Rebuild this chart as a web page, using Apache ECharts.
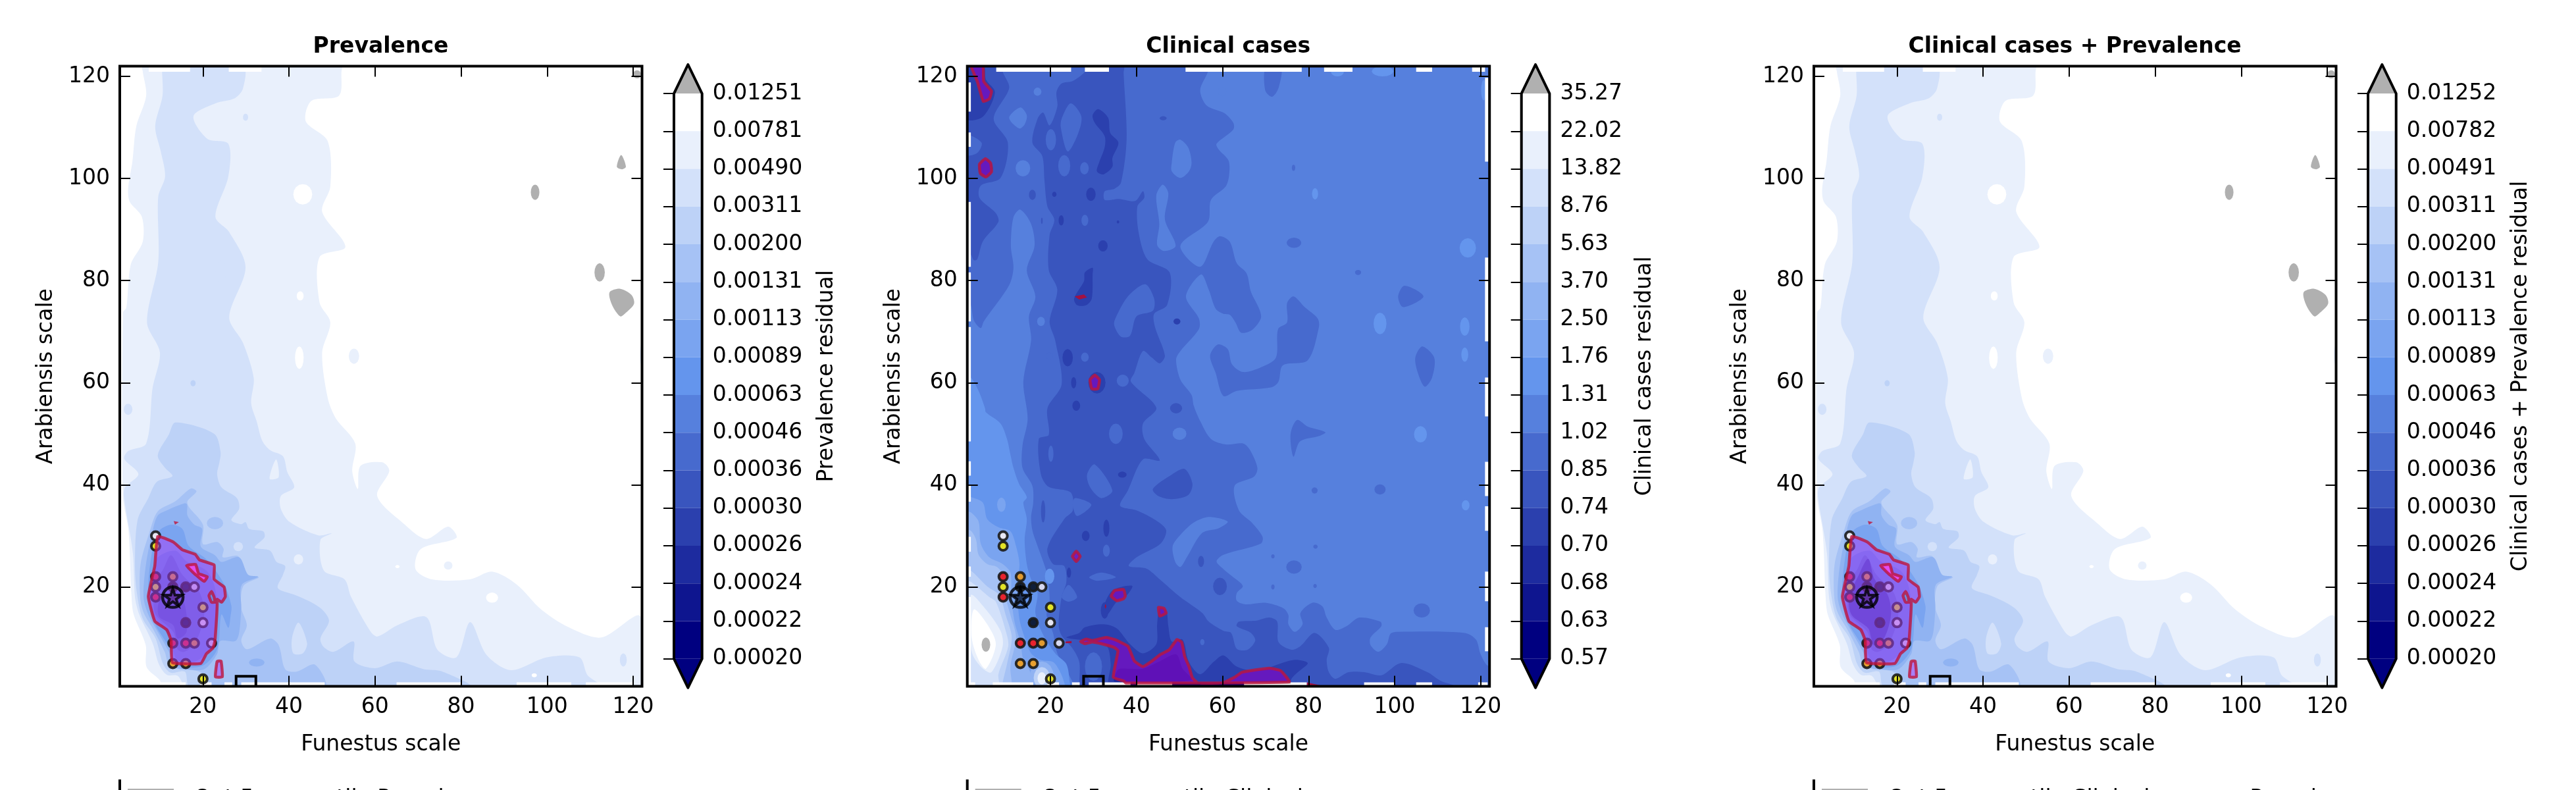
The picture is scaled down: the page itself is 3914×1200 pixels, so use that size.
<!DOCTYPE html>
<html>
<head>
<meta charset="utf-8">
<style>html,body{margin:0;padding:0;background:#fff;overflow:hidden}#c{width:3914px;height:1200px}</style>
<script src="https://cdn.jsdelivr.net/npm/echarts@6/dist/echarts.min.js"></script>
</head>
<body>
<div id="c"></div>
<script>
// ---------- tick labels and colour levels ----------
const axisTicks = [20,40,60,80,100,120];
const prevLabels = ['0.00020','0.00022','0.00024','0.00026','0.00030','0.00036','0.00046','0.00063','0.00089','0.00113','0.00131','0.00200','0.00311','0.00490','0.00781','0.01251'];
const clinLabels = ['0.57','0.63','0.68','0.70','0.74','0.85','1.02','1.31','1.76','2.50','3.70','5.63','8.76','13.82','22.02','35.27'];
const comboLabels = ['0.00020','0.00022','0.00024','0.00026','0.00030','0.00036','0.00046','0.00063','0.00089','0.00113','0.00131','0.00200','0.00311','0.00491','0.00782','0.01252'];
// level 0 = white (highest band) ... level 14 = navy (lowest band), level 15 = over-range grey
const levelColors = ['#FFFFFF','#E9F0FC','#D3E1FA','#BDD2F7','#A6C2F5','#90B3F2','#7AA4F0','#6495ED','#5680DD','#476ACE','#3955BE','#2B40AE','#1D2B9F','#0E158F','#000080','#B0B0B0'];

// ---------- sampled points: funestus, arabiensis, colour group ----------
const sampleX = [9,9,9,13,9,9,13,16,18,20,16,20,13,16,18,22,13,16,20];
const sampleY = [30,28,22,22,20,18,20,20,20,16,13,13,9,9,9,9,5,5,2];
const sampleColor = ['#E8E8F4','#E2E228','#E8242E','#E09A30','#E2E228','#E8242E','#101E3A','#101E3A','#D6D8F0','#E2E228','#101E3A','#E4E4F2','#E8242E','#E8242E','#E09A30','#D6D8F0','#E8A030','#E8A030','#E2E228'];
const bestPoint = [13,18];
const zoneBox = [27.7,32.3,0,2.5];

// ---------- Prevalence contours (funestus, arabiensis), outermost first ----------
const prevT1 = [[6,122],[6,121],[6.8,116.2],[4.5,110.2],[3.6,103.3],[2.6,97.9],[3,95.4],[5.8,92.5],[6,87.6],[3.2,83.1],[2.2,74.7],[1.4,73.7],[1.4,37.8],[2.7,31],[3.4,18],[3.9,14.6],[6.7,8.6],[6.9,4.3],[10,1.7],[10.5,0.5],[121.6,0.5],[121.6,14.3],[112.6,10.1],[105,12.1],[98.6,15.6],[92.9,20.5],[87.2,23],[82.1,21.5],[73.2,21.5],[69.4,23.5],[70.6,27.4],[78.9,29.6],[77,31.8],[71.9,29.4],[66.8,32.3],[60.5,37.8],[63.3,42.7],[61.7,44.4],[56.6,43.7],[56,39.2],[54.7,42.7],[55.4,48.1],[50.9,53],[49,57],[47.7,65.9],[49.6,71.8],[47.1,75.7],[47.1,84.6],[53.1,86.6],[47.7,93.5],[49.6,98.4],[49,107.3],[43.9,111.2],[45.2,115.2],[51.6,116.2],[52.2,121],[52.2,122]];
const prevT2 = [[10.5,122],[10.5,121],[10.6,116.2],[8.9,110.2],[10.2,105.3],[11.2,100.4],[9.6,96.4],[9.6,83.6],[7,71.8],[10,65.9],[8.3,59],[6.8,48.1],[2.6,46.6],[1.7,45.1],[5,42.1],[1.9,39.5],[1.6,37.8],[3.7,26.7],[4.2,18],[5.2,14.6],[8.3,9],[9.8,4.8],[11.6,2.8],[14.1,2.6],[16.2,0.5],[112.6,0.5],[109.4,2.7],[107.5,6.2],[99.9,6.2],[91.6,3.7],[85.9,6.7],[82.1,13.1],[78.9,6.2],[74.5,7.7],[71.9,14.1],[65.2,12.5],[60.6,10.3],[59,11.2],[54.4,18.1],[52.9,21.5],[48.1,23.2],[47.3,29.2],[49.9,30.5],[46.8,30.1],[40.2,32.7],[38.1,35.3],[38.1,37.8],[41.2,39.5],[39.6,42.5],[38.6,45.6],[35.6,46.8],[33.8,48.6],[32.5,52.4],[31.2,56],[31.8,60.9],[29.3,67.8],[26.1,72.8],[29.9,82.6],[26.1,89.5],[22.9,92.5],[25.9,100.4],[25.9,106.8],[21,107.8],[17.8,112.2],[22.9,114.7],[27.4,115.7],[29.3,117.6],[29.3,122]];
const prevT3 = [[13.6,52.2],[12.1,49.9],[9.5,45.8],[11.1,43.4],[12.9,41.7],[9.3,40.6],[7.3,37.4],[4.8,33.1],[4.2,24.1],[4.7,18.5],[6,13.8],[9,9.9],[10.7,5],[12.5,3.2],[15.8,3.4],[17,0.5],[82,0.5],[75.4,3.5],[71.3,3.9],[65.2,5.4],[60,4.1],[55.2,5.4],[55,9.3],[50.4,7.3],[48.1,8.2],[47.3,9.9],[49.3,13.3],[47.8,15.5],[44.7,17.2],[41.2,18.5],[37.4,19.8],[38.6,22.4],[39.1,24.1],[37.1,24.9],[35.6,27.1],[32,27.7],[34.3,29.7],[34,30.9],[30.7,31.4],[29.9,32.7],[28.9,32.3],[26.6,33.1],[28.4,35.3],[27.9,37.4],[24.3,39.5],[23.3,42.1],[23.8,44.3],[24.1,46.4],[22.6,50]];
const prevT4 = [[17.2,39.3],[18.5,38.7],[16.4,36.8],[16.7,35.7],[20,32.2],[20,28.4],[23.3,28.8],[24.8,27.5],[24.6,25.8],[28.2,26],[30,22.4],[33,21.9],[29.4,20.2],[28.9,15.9],[30.2,12.5],[28.9,9.5],[30.2,7.8],[35.6,9.9],[37.6,8.6],[39.1,3.9],[41.7,3.4],[46,4.8],[48.3,0.5],[22.8,0.5],[19.2,3.4],[14.6,3.9],[12.1,4.8],[11.1,7.3],[8.5,11.6],[6.2,15],[5.4,18],[5.5,24.5],[7.5,30.5],[9.5,34.8],[13.6,36.8]];
const prevT5 = [[14.1,35.9],[16.2,36.3],[16.4,34],[18,32.2],[19.8,31.4],[19.5,27.9],[22.8,26.2],[24.3,24.9],[28.4,25.8],[30.5,22.4],[32.8,22],[29,20.4],[28.9,15.9],[28.4,11],[27.5,9.4],[24,9.4],[23.3,6.9],[20.3,3.9],[16.2,3.9],[13.6,4.3],[12.1,7.3],[9.5,11.2],[7.3,14.6],[6.2,18],[6.7,24.1],[8.3,31],[9.5,34],[11.6,35]];
const prevT6 = [[9.8,31],[12.6,32.2],[15.2,31.4],[16.7,28],[20.8,25.4],[24.9,20.6],[26.6,16.3],[26.4,14.2],[25.9,12],[24.3,14.6],[23.3,7.8],[19.7,4.5],[13.4,4.8],[12.4,7.8],[9,12.5],[7.5,16.8],[7.3,21],[8.5,28.4]];
const prevT7 = [[9.5,25.8],[13.6,27.1],[16.2,25],[20.8,23.2],[22.8,19.8],[23.3,13.8],[21.8,8.2],[18.2,5.4],[13.9,5.8],[12.4,10.1],[9,13.8],[7.8,18],[8.5,22.4]];
const prevT8 = [[10.6,23.2],[12.6,26.2],[15.2,22.4],[19.2,18.9],[20.3,14.6],[18.2,9],[15.7,7.3],[14.1,7.8],[13.1,11.2],[9,14.6],[8.5,18],[9,21.5]];
const prevT9 = [[11.6,18.5],[13.6,19.4],[15.7,16.8],[16.2,11.2],[14.1,9.9],[13.1,12.5],[9.8,14.2],[9.8,17.2]];
const prevHoleT2 = [[40.7,10],[42.2,13],[44.2,9],[43.2,7],[41,7]];
const prevHoleT1 = [[35.5,41.2],[37,45],[37.6,41.5]];
const prevSpots = [
 [1,55.1,65.2,1.2,1.5],[2,2.6,54.8,1,1.1],[2,24.2,81.8,1.2,2.2],[2,29.9,112,0.6,0.7],[3,17.7,59.9,0.6,0.6],
 [2,28.2,27.9,1.1,0.9],[1,42.2,25.4,1.1,1],[4,22.8,32.5,1.9,1.2],[5,32.5,5.2,1.8,0.8],[0,43.2,96.9,2.2,2],
 [0,42.4,64.9,1,2.2],[0,42.6,77,0.8,0.9],[0,87.2,17.9,1.4,1],[1,77,24.2,1,0.8],[0,65.2,24,0.5,0.3],[2,117.7,5.7,0.8,1.3],
 [0,97,2.7,0.6,0.4],[15,97.2,97.3,1,1.5],[15,112.2,81.6,1.2,1.8],[15,120.9,120.4,0.9,0.8],
 [1,122,65.4,0.5,2]
];
const prevGreyBlob = [[114.5,77.7],[117,78.4],[119.6,77.2],[120.2,75.5],[118.3,73.7],[117,73],[115.1,75.2]];
const prevGreyDrop = [[116.2,102.3],[117.2,104.6],[118.3,102.3],[117.4,101.8]];
const prevOverlay = [[[9.5,29.9],[13.1,28.8],[15.2,27.3],[18.2,26.4],[19.2,25.3],[22.6,24.3],[22.6,21.5],[24.9,20],[25.2,18.1],[24.3,17],[23.3,17.6],[22.8,17.2],[22.6,18],[22,19.1],[21.4,18.3],[22,17],[23.3,17],[22.8,9.5],[22.3,8],[20.8,6.9],[19.5,5],[12.9,5.2],[12.6,9.5],[11.6,11.6],[8.8,13.3],[7.3,18.1],[8.8,24.1]],
 [[23.3,5.4],[24.2,5.5],[24.5,2.4],[22.9,2.4]]];
const prevOverlayHole = [[16.2,24.2],[18.3,24.4],[19,22.6],[21,22],[20.3,21.1],[18,22.6]];
const prevRedBits = [[[13.2,32.9],[14.4,32.7],[13.5,32.2]]];
const prevBottomGaps = [[6.6,16],[19.3,22],[25,26.8],[28.9,48.3],[65,80],[92.9,105.6],[109,120]];
const prevTopGaps = [[7.4,17],[26,33.6]];
const comboCore = [[11.2,22.5],[13.3,25.5],[14.8,21.5],[17.8,18.5],[18.6,14.6],[17,10],[14.6,8.6],[13.4,11.8],[9.4,14.6],[8.9,18]];

// ---------- Clinical cases contours ----------
const clinBase = [[0,0],[0,123],[123,123],[123,0]];
const clinT9Main = [[0.5,122],[56.6,122],[56.6,120.9],[54.8,117.3],[56.3,114.3],[60.4,112.8],[62.5,110.9],[62.5,109.6],[58.6,106.8],[59.1,105.7],[61.4,103.5],[61.5,100.5],[60.7,98.4],[57.3,95.8],[56.6,91.5],[50.2,86.8],[54.8,82.7],[57.9,87.6],[59.4,88.7],[61.7,87.6],[63.3,83.4],[65.6,81.4],[66.6,77.8],[68.6,74.3],[68.9,72.6],[66.8,70.3],[64.3,69.8],[63,71.8],[61.7,73.3],[60.2,73.5],[58.4,74.5],[56.8,78.2],[55,81.2],[51.5,76.9],[54.5,72.6],[54.5,70.5],[50.2,66.2],[49.2,64.5],[50.2,60.6],[52.8,57.6],[53.3,55.5],[54.8,52.5],[57.3,49],[60.9,47.9],[64.8,48.1],[66.4,46.8],[68.1,43.3],[67.3,41.6],[62.8,39.8],[63.8,35],[66.8,32.6],[69.3,29.8],[68.9,28.5],[60.2,26.3],[58.6,25],[60.2,23.5],[62.2,22.1],[64.7,20.2],[63.3,18.8],[63.3,17.3],[65.3,16.6],[69.9,16.9],[74.2,15.8],[75.3,14.5],[75.3,12.7],[76.8,11.2],[78.6,12.7],[78.1,14.9],[80.9,16.9],[83.2,16.2],[84.2,14],[86.2,11.6],[88.8,12.3],[91.8,14],[96.7,13.2],[96.9,12.3],[94.4,10.1],[94.4,8.6],[96.2,7.3],[98.2,8.8],[99,10.8],[100.5,11.2],[116.3,11],[118.9,9.7],[119.9,7],[121.2,4.9],[122.5,4],[122.5,0.3],[25.2,0.3],[25.2,1.3],[21.6,7],[20.6,11],[19.1,14.5],[19.8,17.5],[19.3,22.3],[18.3,25],[16.8,28.5],[15.8,31.1],[15.5,33.7],[16,36.5],[15.8,39.8],[13.5,43.3],[13.5,47.7],[14.7,52.9],[13.7,60.2],[15.5,68.3],[15,73],[16.5,76.9],[14.5,82],[16.3,86.8],[15.5,91.1],[13,93.9],[11.4,92.4],[10.8,86.8],[11.4,82.5],[10.4,79.1],[4.5,72],[3.8,70.7],[2.2,72.2],[1.5,75.2],[0.5,76]];
const clinT9Blob = [[57.1,65.3],[58.9,67.5],[61.2,66.6],[62.2,63.6],[64.8,62.1],[68.9,63],[72.4,64.9],[72.9,70.5],[75,71.8],[75,75.6],[76.5,76.9],[79.1,74.8],[82.1,72.6],[82.4,70.9],[79.8,64.4],[74,63.4],[73,60.2],[71.4,59.1],[63.3,58.4],[60.2,57.4],[58.4,61.9]];
const clinT9Finger = [[70.1,122],[69.9,117.3],[71.5,116],[73,117.7],[73.6,122]];
const clinT9Delta = [[100.8,76.9],[102.3,79],[106.7,76.9],[102,74.8]];
const clinT9Drop = [[104.8,64.9],[106.4,67.1],[109.2,64.9],[108.7,61],[107,59.2],[105.4,61.9]];
const clinT9Wing = [[75.8,49.9],[77.3,52.7],[79.8,51.4],[83.9,50.3],[82.6,49.6],[78,48.5],[76.5,45.5]];
const clinT8Holes = [
 [[10.4,111.9],[13,113.9],[14.5,112.4],[14,110.6],[12.7,109.8]],
 [[48.2,103.1],[49,107],[50.2,107.6],[52,106.1],[52.8,103.1],[52.2,101.4],[50.2,100.1],[48.2,101.4]],
 [[44.6,96.7],[46.1,98.8],[47.4,97.1],[46.6,92],[49.1,86.8],[46.4,85.8],[44.8,87],[45.3,91.1]],
 [[48.4,28],[50.2,30.2],[53.3,32.6],[56.8,33.7],[61.2,32.8],[59.1,31.5],[55.3,30.6],[51.7,25.8],[50.2,23.9],[49,24.9]]
];
const clinT10Main = [[28,122],[28,120.9],[25.2,119.1],[22.6,118.6],[21.4,116.9],[21.6,114.1],[19.8,110.4],[18.3,112.9],[17,111.7],[15.8,107],[18.1,104.4],[18.6,99.7],[19.3,94.5],[20.9,91.9],[19.8,88.9],[19.6,82.1],[21.6,78.2],[19.8,72],[21.1,68.3],[22.6,59.7],[19.3,55],[19.6,49.8],[17.3,49],[17.8,42],[19.6,39.6],[24.7,38.5],[25.2,35],[23.2,33.3],[19.3,27.6],[20.6,24.5],[23.2,24.1],[23.7,21],[22.6,18],[21.9,12.7],[22.6,10.5],[25.2,7.9],[26.7,5.3],[26.7,1.2],[26.7,0.3],[113.8,0.3],[113.8,0.7],[110.7,1.6],[107.6,3.3],[101.5,5.1],[96.9,2.7],[92.9,3.3],[89.3,3.3],[86.2,2],[84.7,3.3],[84.2,5.7],[84.7,8.1],[81.4,11],[78.1,8.4],[76,7.7],[73,9.2],[72.7,13.2],[70.9,14],[67.9,13.4],[63.8,13.2],[63.3,12.3],[66.6,11],[67.6,9.5],[65.8,7.7],[63.3,7.9],[62,11],[60.2,11.4],[56.8,13.2],[55.3,14.9],[50.2,18],[45.4,21.5],[42.3,23.6],[38.2,24.1],[40,25.8],[45.6,28.5],[46.9,31.1],[44.6,33],[40,35],[36.2,35.9],[38,38.9],[41.5,45],[45.4,44.8],[41.8,49],[41.5,52],[44.6,55.1],[38.7,60.2],[39.5,61.9],[41.5,66.2],[43.6,64.9],[45.4,63.8],[46.6,65.3],[44.3,70.9],[44.1,73.5],[47.1,75.2],[47.7,81.6],[42.5,84.2],[40.5,89.4],[40.2,94.5],[41.8,96.2],[41.5,97.5],[39.7,95.6],[35.9,96],[32.6,95.8],[32.6,97.5],[34.9,98],[36.4,99.2],[37.7,107.8],[37,120.7],[37,122]];
const clinT10Left = [[8.9,122],[8.9,120.9],[10.4,117.7],[6.8,111.7],[10.1,107],[8.4,100.1],[3.8,98.6],[3.5,96.2],[7.3,93.2],[7.9,91.5],[4.3,87.7],[3,84.2],[2.2,84],[1.5,85.1],[0.5,85.5],[0.5,122]];
const clinT10Island = [[43.8,39.2],[48.2,42],[51.2,43.1],[53,40.2],[52,38],[48.2,37.2],[45.1,37.8]];
const clinT9Holes = [
 [[22.6,111.7],[24.7,114.7],[27.2,112.1],[26.2,108.3],[24,105.3],[22.4,110]],
 [[34.9,72.2],[38,76.9],[42,79.3],[44.1,76.5],[43.8,74.1],[40,73],[38.5,69.2],[36.4,69],[34.9,71]],
 [[28.5,42],[30.3,44],[34.4,38.9],[31.8,37.4],[29.3,39.4]],
 [[25.7,37.4],[29.5,36.1],[26.2,33.9],[25.2,36]],
 [[29,21.9],[31.8,22.8],[35.2,21.9],[30.8,21.2]],
 [[22.6,18],[24.2,20.4],[26.2,18],[24.2,17.1]],
 [[0.5,108.5],[4,107],[3,105],[0.5,104.6]]
];
const clinT11Bottom = [[23.7,10.1],[26.7,11],[28,12.1],[32.3,12.7],[35.4,11.9],[38.5,8.8],[41.5,7],[44.6,8.8],[44.8,12.7],[45.4,15.8],[46.9,15.4],[47.4,12.3],[48.2,9.3],[50.7,9.7],[52.2,5.3],[54.8,2.9],[57.9,5.3],[60.2,6.6],[63.3,4.4],[67.9,3.6],[76.5,5.7],[79.8,5.1],[77.5,3.3],[76,2],[75.5,0.3],[34,0.3],[34,5],[33,8.5],[28,9.5]];
const clinT11Patches = [
 [[29.8,112.4],[31.1,113.6],[33.4,111.9],[33.9,108.9],[35.8,107],[34.4,104],[34.4,102.3],[32.3,100.8],[30.8,101.4],[31.3,103.1],[32.6,106.1],[32.6,108.3],[30.3,110.9]],
 [[25.5,76.5],[27.8,79.9],[28,81.6],[29.8,82.5],[29.8,81.2],[29.6,76.5],[28.3,75.2],[26.2,75.2]],
 [[32.3,15.8],[34.4,19.3],[39,20.2],[37.4,18],[35.4,17.1],[33.1,14.5]],
 [[0.5,111.7],[4.3,112.1],[7.1,116.9],[5,119.4],[4.5,122],[0.5,122]]
];
const clinT7 = [[0.5,61],[1.5,61],[3.3,58.4],[4.8,55],[5,54.2],[8.4,52],[9.9,49],[10.7,45.9],[11.4,43.3],[12.7,40.2],[14.5,37.6],[13.7,36.5],[14.5,33.3],[14,29.3],[14.5,24.5],[15.5,21.5],[17,18.8],[16.5,14.9],[18.1,11],[21.1,7],[23.7,4.9],[24.5,1.3],[24.5,0.3],[0.5,0.3]];
const clinT6 = [[0.5,37.6],[1.5,37.6],[4.3,36.5],[5.3,33.3],[7.9,31.7],[10.7,30.9],[12,28],[12.8,24.5],[12.4,21.5],[12.4,17.1],[12.9,13.2],[14,10.1],[15.5,7],[17.8,5.7],[20.6,5.3],[22.1,3.6],[23.2,1.3],[23.2,0.3],[0.5,0.3]];
const clinT5 = [[0.5,34.6],[1.5,34.6],[3.3,32.8],[3.8,28.5],[5.8,25.8],[8.9,24.5],[10.7,22.8],[10.9,18],[11.7,13],[13,9.2],[13.7,5.7],[15,4],[16,1.3],[16,0.3],[0.5,0.3]];
const clinT4 = [[0.5,31],[1.5,31],[2.7,29.3],[3.3,26.3],[5.3,24.5],[7.6,23.9],[9.6,21.5],[9.6,18],[10.7,14.5],[12,10.1],[10.7,4.5],[11,1.3],[11,0.3],[0.5,0.3]];
const clinT3 = [[0.5,23.2],[1.5,23.2],[5.3,20.1],[8.1,18.4],[9.6,14.5],[11,10.1],[9.9,4.9],[8.9,1.3],[8.9,0.3],[0.5,0.3]];
const clinT2 = [[0.5,21],[1.5,21],[5.8,18],[7.3,17.1],[9.6,11.4],[10.2,8.4],[7.9,2.9],[7.9,0.3],[0.5,0.3]];
const clinT1 = [[1.5,18.4],[4.8,15.8],[8.4,11.4],[8.9,8.4],[6.3,3.3],[4.3,4],[2.2,6.2],[1.5,8.4]];
const clinT0 = [[2.2,15.6],[5.3,12.7],[7.3,8.8],[5,4],[3.3,5.7],[1.7,10.1]];
const clinSpots = [
 [15,5,8.7,1,1.4],[5,18,2.4,2.8,3],[3,18,2.2,1.9,2.1],[1,18,2.1,1,1.2],[6,8.6,36.1,1,1.4],[7,19.8,22.1,1.1,1.5],
 [8,17,117,0.9,0.8],[8,13.6,102,1.7,1.6],[8,17.8,72,0.9,0.9],[9,19.8,65.2,0.8,0.7],[9,28,65,0.9,0.9],[9,36.8,60.4,1.4,1.2],[8,59.9,117,1,0.9],[8,50,50,1.6,1.2],
 [9,20.1,107.6,1.2,2.1],[9,23.2,102.5,1.4,2.1],[9,27.9,102,1,1.2],[9,28,91.8,0.8,1.1],[9,35.2,50,1.6,2],[9,33,27.1,0.8,1.2],[9,55.3,9.2,0.5,0.6],[9,30,4.4,2,2.8],
 [9,76.5,102.1,0.4,0.6],[9,76.6,87.4,1.7,1],[9,91.5,81.6,0.7,0.5],[9,81.4,38.9,0.7,0.6],[9,96.6,39.1,1.3,1],[9,81.6,27.9,0.5,0.4],[9,71.7,26,0.4,0.4],[9,76.6,23.9,1.8,1.3],[9,71.7,20,0.4,0.5],[9,81.5,20.2,0.4,0.4],[9,106.3,15.4,1.9,1.4],
 [7,96.6,71.6,1.5,2.1],[7,116.3,71,1.1,1.8],[7,116.3,65.5,0.8,1.4],[7,117,86.4,1.9,1.9],[7,81.5,97,0.7,1.1],[7,86.7,120.9,1.5,0.9],[7,97.2,121,2.5,1],[7,120.7,117.3,0.6,2],[7,106,49.9,1.5,1.6],[7,116.5,36,0.9,1],
 [10,15.8,96.8,0.8,1],[10,46.2,111.8,0.8,0.4],[10,18,91.7,0.2,0.6],[10,49.2,55,1.4,1],[10,18.3,34.8,0.5,2.2],[10,55,25,0.7,1.1],[10,59.4,20.1,1.6,1.7],[9,20.1,46.1,0.6,1.6],
 [11,29.4,96.9,1.1,1.3],[11,32.2,86.8,1.1,1.1],[11,22.5,91.8,0.6,1],[11,20.9,96.9,0.5,0.5],[11,35.7,91.5,0.3,0.3],[11,25.4,60,0.6,1.1],[11,24,64.9,1.2,1.7],[11,26,55.5,0.9,1],[11,49.4,72,0.8,0.6],[11,36.7,42,1,0.6],[11,33,31.5,0.7,1.7],[11,28.2,30,0.9,1],[11,24.3,22.8,0.5,1],[11,30.8,60,2,2.1],[11,4.9,102,1.7,1.8],[11,32.6,15.4,0.9,1.6]
];
const clinOverlay = [
 [[27,9.3],[28.3,9.8],[29.8,9.5],[32.9,10.1],[34.9,9.7],[38,8.4],[39.5,5.5],[41.5,4.4],[43.6,5.5],[45.6,6.8],[47.6,7.7],[49.4,9.7],[50.5,9.2],[51.2,6.4],[52.2,4.4],[53,2.2],[54.3,1.2],[59.9,1.2],[62.8,2.3],[64.5,3.3],[70.9,4.1],[73.5,3.6],[75.5,1.4],[37.5,1.2],[37,1.6],[34.6,2.3],[35.7,7.5],[34.9,8.1],[33.1,8.6],[29.8,9.2],[28,8.9]],
 [[1.6,122],[4.3,122],[4.5,119],[6.3,117.1],[5.8,115.6],[4.4,115.1],[3,119]],
 [[4.9,103.9],[6.1,103],[6.3,101.3],[5,100.3],[3.7,101],[3.5,102.8]],
 [[30.3,61.5],[31.4,60.6],[31,58.8],[29.6,58.8],[29.2,60.6]],
 [[34.1,18.2],[34.9,19.3],[37,19.5],[37.4,18.2],[37,17.7],[35.4,17.3]],
 [[45.1,16],[46.4,15.8],[46.9,14.9],[45.4,14.3]],
 [[26,27],[26.9,26],[26,25],[25.1,26]]
];
const clinRedBits = [[[25.6,76.9],[27.8,77.3],[28.5,76.7],[26.7,76.3]],[[23.5,9.3],[24.9,9.4],[24.9,9],[23.5,9]],[[32.8,16.7],[33,16.2],[32.8,15.7],[32.6,16.2]],[[79.6,1.3],[82.9,0.7],[79.6,0.7]]];
const clinInnerDark = [[35.7,3.8],[38,4],[41.5,4],[45.1,5.3],[49.2,6.8],[50.7,4],[52.8,1.8],[35,1.4]];
const clinLeftGaps = [[113.1,118.8],[106.2,109],[82.7,95.4],[72,81.6],[48.5,70.9],[41.8,44.6],[36.7,39.8],[26.9,29.8],[22,24],[0.5,18]];
const clinRightGaps = [[103.3,119.7],[68.1,84.5],[53.4,61],[37.8,44.5],[31,35.8],[17.2,23],[7.4,12.1]];
const clinTopGaps = [[7.4,24.8],[28,33.6],[51.4,78.4],[83.6,90.2],[105,108.7],[118,121]];
const clinBottomGaps = [[1.5,2.5],[6.6,16],[19.3,22],[25,26.8],[28.9,38.6],[39.9,48.3],[65,79.6],[92.9,100],[105,108.7],[119.4,121.6]];
const clinNavyBottom = [[38.6,39.9],[48.3,65]];
const clinGreyEdges = [[39.9,48.3],[65,75.8]];

// ---------- layout constants ----------
const panelOffsets = [0,1287.7,2574];
const xMin = 0.67, xMax = 122.05, yMin = 0.54, yMax = 122;
const font = '"DejaVu Sans"';
const fs = 33;
const purpleA = 'rgba(170,60,245,0.5)', purpleB = 'rgba(140,0,200,0.6)', redLine = 'rgba(190,20,60,0.8)';

function poly(t, pts, smooth){ return {pts, color: levelColors[t], smooth: smooth===undefined?0.3:smooth}; }
function spot(s){
  const pts = [];
  for(let a=0;a<16;a++){ const th=a/16*Math.PI*2; pts.push([s[1]+s[3]*Math.cos(th), s[2]+s[4]*Math.sin(th)]); }
  return {pts, color: levelColors[s[0]], smooth:0};
}
function strip(x0,x1,y0,y1,color){ return {pts:[[x0,y0],[x1,y0],[x1,y1],[x0,y1]], color, smooth:0}; }

const prevShapes = [
  poly(1,prevT1),poly(2,prevT2),poly(3,prevT3),poly(2,prevHoleT2),poly(1,prevHoleT1),poly(4,prevT4),poly(5,prevT5),poly(6,prevT6),poly(7,prevT7),poly(8,prevT8),poly(9,prevT9)
].concat(prevSpots.map(spot)).concat([poly(15,prevGreyBlob),poly(15,prevGreyDrop)]);
function edgeStrips(bottom, top){
  return bottom.map(g=>strip(g[0],g[1],0,1.3,'#fff')).concat(top.map(g=>strip(g[0],g[1],120.9,123,'#fff')));
}
const panel1 = prevShapes.concat(edgeStrips(prevBottomGaps,prevTopGaps));
const panel3 = prevShapes.concat([poly(10,comboCore)]).concat(edgeStrips(prevBottomGaps,prevTopGaps));
const panel2 = [poly(8,clinBase,0),poly(9,clinT9Main),poly(9,clinT9Blob),poly(9,clinT9Finger),poly(9,clinT9Delta),poly(9,clinT9Drop),poly(9,clinT9Wing)]
  .concat(clinT8Holes.map(p=>poly(8,p)))
  .concat([poly(10,clinT10Main),poly(10,clinT10Left),poly(10,clinT10Island)])
  .concat(clinT9Holes.map(p=>poly(9,p)))
  .concat(clinT11Patches.map(p=>poly(11,p)))
  .concat([poly(11,clinT11Bottom),poly(12,clinInnerDark),poly(7,clinT7),poly(6,clinT6),poly(5,clinT5),poly(4,clinT4),poly(3,clinT3),poly(2,clinT2),poly(1,clinT1),poly(0,clinT0)])
  .concat(clinSpots.map(spot))
  .concat(clinLeftGaps.map(g=>strip(0,1.5,g[0],g[1],'#fff')))
  .concat(clinRightGaps.map(g=>strip(121,123,g[0],g[1],'#fff')))
  .concat(clinNavyBottom.map(g=>strip(g[0],g[1],0,1.3,levelColors[14])))
  .concat(edgeStrips(clinBottomGaps,clinTopGaps))
  .concat(clinGreyEdges.map(g=>strip(g[0],g[1],1.05,1.35,levelColors[15])));

function customSeries(shapes, ax, z, extra){
  return Object.assign({
    type:'custom', coordinateSystem:'cartesian2d', xAxisIndex:ax, yAxisIndex:ax, z, clip:true, silent:true, animation:false, progressive:0,
    data: shapes.map((_,i)=>[i]), encode:{x:0,y:0},
    renderItem:(params,api)=>{
      const s = shapes[api.value(0)];
      return {type:'polygon', shape:{points:s.pts.map(p=>api.coord(p)), smooth:s.smooth},
        style:{fill:s.color, stroke:s.stroke||null, lineWidth:s.lineWidth||0, lineJoin:'round'}, silent:true};
    }
  }, extra||{});
}
function overlayShapes(list, fill){ return list.map(p=>({pts:p,color:fill,stroke:redLine,lineWidth:4.5,smooth:0.12})); }

const grids=[], xAxes=[], yAxes=[], series=[], titles=[], graphics=[];
const panels = [
  {title:'Prevalence', name:'Prevalence residual', labels:prevLabels, shapes:panel1, cbGap:173,
   overlay:overlayShapes(prevOverlay,purpleA).concat(overlayShapes([prevOverlayHole],'#E24CF2')).concat(prevRedBits.map(p=>({pts:p,color:redLine,smooth:0}))),
   legend:'Out 5-percentile Prevalence'},
  {title:'Clinical cases', name:'Clinical cases residual', labels:clinLabels, shapes:panel2, cbGap:129,
   overlay:overlayShapes(clinOverlay,purpleB).concat(clinRedBits.map(p=>({pts:p,color:'rgba(170,15,60,0.95)',smooth:0}))),
   legend:'Out 5-percentile Clinical cases'},
  {title:'Clinical cases + Prevalence', name:'Clinical cases + Prevalence residual', labels:comboLabels, shapes:panel3, cbGap:173,
   overlay:overlayShapes(prevOverlay,purpleA).concat(overlayShapes([prevOverlayHole],'#E24CF2')).concat(prevRedBits.map(p=>({pts:p,color:redLine,smooth:0}))),
   legend:'Out 5-percentile Clinical cases + Prevalence'}
];
const starPath = 'path://M0,-10 L2.25,-3.09 L9.51,-3.09 L3.63,1.18 L5.88,8.09 L0,3.82 L-5.88,8.09 L-3.63,1.18 L-9.51,-3.09 L-2.25,-3.09 Z';
const labelStyle = {fontFamily:font,fontSize:fs,color:'#000'};
const tickStyle = {color:'#000',width:2};

panels.forEach((p,i)=>{
  const off = panelOffsets[i];
  const g = grids.length;
  grids.push({left:182+off,top:100.5,width:793.5,height:942,z:10,show:true,borderColor:'#000',borderWidth:4,backgroundColor:'transparent',containLabel:false});
  const ticksX = {show:true,inside:true,length:16,lineStyle:tickStyle,customValues:axisTicks};
  xAxes.push({gridIndex:g,type:'value',min:xMin,max:xMax,position:'bottom',z:11,splitLine:{show:false},axisLine:{show:false},axisTick:ticksX,
    axisLabel:Object.assign({margin:15,customValues:axisTicks},labelStyle),
    name:'Funestus scale',nameLocation:'middle',nameGap:72,nameTextStyle:labelStyle});
  yAxes.push({gridIndex:g,type:'value',min:yMin,max:yMax,position:'left',z:11,splitLine:{show:false},axisLine:{show:false},axisTick:ticksX,
    axisLabel:Object.assign({margin:15,customValues:axisTicks},labelStyle),
    name:'Arabiensis scale',nameLocation:'middle',nameGap:95,nameRotate:90,nameTextStyle:labelStyle});
  const g2 = grids.length;
  grids.push({left:182+off,top:100.5,width:793.5,height:942,show:false});
  xAxes.push({gridIndex:g2,type:'value',min:xMin,max:xMax,position:'top',z:11,splitLine:{show:false},axisLine:{show:false},axisTick:ticksX,axisLabel:{show:false}});
  yAxes.push({gridIndex:g2,type:'value',min:yMin,max:yMax,position:'right',z:11,splitLine:{show:false},axisLine:{show:false},axisTick:ticksX,axisLabel:{show:false}});

  series.push(customSeries(p.shapes,g,2));
  series.push({type:'scatter',xAxisIndex:g,yAxisIndex:g,z:3,silent:true,animation:false,symbol:'circle',symbolSize:13,
    data:sampleX.map((x,k)=>({value:[x,sampleY[k]],itemStyle:{color:sampleColor[k]}})),
    itemStyle:{borderColor:'rgba(25,25,25,0.9)',borderWidth:4,opacity:1}});
  series.push({type:'scatter',xAxisIndex:g,yAxisIndex:g,z:3,silent:true,animation:false,symbol:starPath,symbolSize:27,symbolKeepAspect:true,
    data:[bestPoint],itemStyle:{color:'#101E3A'}});
  series.push(customSeries(p.overlay,g,4));
  series.push({type:'scatter',xAxisIndex:g,yAxisIndex:g,z:5,silent:true,animation:false,symbol:starPath,symbolSize:27,symbolKeepAspect:true,
    data:[bestPoint],itemStyle:{color:'transparent',borderColor:'#000',borderWidth:4}});
  series.push({type:'scatter',xAxisIndex:g,yAxisIndex:g,z:5,silent:true,animation:false,symbol:'circle',symbolSize:31,
    data:[bestPoint],itemStyle:{color:'transparent',borderColor:'#000',borderWidth:4.5}});
  series.push({type:'custom',coordinateSystem:'cartesian2d',xAxisIndex:g,yAxisIndex:g,z:6,clip:true,silent:true,animation:false,data:[zoneBox],encode:{x:0,y:2},
    renderItem:(params,api)=>{
      const a=api.coord([api.value(0),api.value(2)]), b=api.coord([api.value(1),api.value(3)]);
      return {type:'rect',shape:{x:a[0],y:b[1],width:b[0]-a[0],height:a[1]-b[1]},style:{fill:null,stroke:'#000',lineWidth:4}};
    }});

  const cb = grids.length;
  grids.push({left:1024+off,top:98,width:42.7,height:946.7,show:false});
  xAxes.push({gridIndex:cb,type:'value',min:0,max:1,show:false});
  const cbTicks = p.labels.map((_,k)=>k);
  yAxes.push({gridIndex:cb,type:'value',min:-0.77,max:15.77,position:'right',z:11,splitLine:{show:false},axisLine:{show:false},
    axisTick:{show:true,inside:true,length:16,lineStyle:tickStyle,customValues:cbTicks},
    axisLabel:Object.assign({margin:16,customValues:cbTicks,formatter:v=>p.labels[Math.round(v)]},labelStyle),
    name:p.name,nameLocation:'middle',nameGap:p.cbGap,nameRotate:90,nameTextStyle:labelStyle});
  const barCells = levelColors.slice(0,15).map((c,k)=>({pts:[[0,14-k],[1,14-k],[1,15-k],[0,15-k]],color:c,smooth:0}));
  barCells.push({pts:[[0,15],[1,15],[0.5,15.77]],color:levelColors[15],smooth:0});
  barCells.push({pts:[[0,0],[1,0],[0.5,-0.77]],color:levelColors[14],smooth:0});
  barCells.push({pts:[[0,0],[0,15],[0.5,15.77],[1,15],[1,0],[0.5,-0.77]],color:null,stroke:'#000',lineWidth:4,smooth:0});
  series.push(customSeries(barCells,cb,2,{clip:false}));

  titles.push({text:p.title,left:573.5+off,top:50,textAlign:'center',textStyle:{fontFamily:font,fontSize:fs,fontWeight:'bold',color:'#000'}});

  graphics.push({type:'rect',shape:{x:180+off,y:1184,width:4,height:20},style:{fill:'#000'},silent:true});
  graphics.push({type:'rect',shape:{x:194+off,y:1198,width:70,height:6},style:{fill:levelColors[15]},silent:true});
  graphics.push({type:'text',x:294.6+off,y:1198,style:{text:p.legend,font:'33px "DejaVu Sans"',fill:'#000',verticalAlign:'top',align:'left'},silent:true});
});

const chart = echarts.init(document.getElementById('c'),null,{renderer:'canvas',width:3914,height:1200});
chart.setOption({animation:false,backgroundColor:'#fff',title:titles,grid:grids,xAxis:xAxes,yAxis:yAxes,series,graphic:{elements:graphics},tooltip:{show:false}});
</script>
</body>
</html>
